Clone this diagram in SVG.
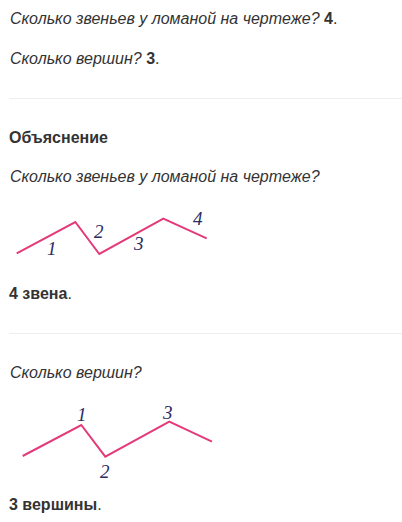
<svg xmlns="http://www.w3.org/2000/svg" width="402" height="522" viewBox="0 0 402 522">
<style>
.t{font-family:"Liberation Sans",Arial,sans-serif;font-size:16px;fill:#333}
.i{font-style:italic}
.b{font-weight:bold}
.sep{stroke:#eee;stroke-width:1}
.pl{fill:none;stroke:#e33a7a;stroke-width:2;stroke-linejoin:miter}
.n{font-family:"Liberation Serif","DejaVu Serif",serif;font-style:italic;font-size:19px;fill:#2b2b66}
</style>
<rect width="402" height="522" fill="#fff"/>
<g id="q1"><text class="t" x="10" y="24"><tspan class="i">Сколько звеньев у ломаной на чертеже?</tspan> <tspan class="b">4</tspan>.</text></g>
<g id="q2"><text class="t" x="10" y="64"><tspan class="i">Сколько вершин?</tspan> <tspan class="b">3</tspan>.</text></g>
<line class="sep" x1="9" y1="98.5" x2="402" y2="98.5"/>
<g id="heading"><text class="t b" x="9" y="143">Объяснение</text></g>
<g id="q1e"><text class="t i" x="10" y="182">Сколько звеньев у ломаной на чертеже?</text></g>
<g id="fig1">
<polyline class="pl" points="16.7,253.3 75.3,222 99.3,254 163.3,218.7 206.7,238.3"/>
<text class="n" x="47" y="255">1</text>
<text class="n" x="94" y="238">2</text>
<text class="n" x="134" y="250">3</text>
<text class="n" x="193" y="225">4</text>
</g>
<g id="a1"><text class="t" x="9" y="299"><tspan class="b">4 звена</tspan>.</text></g>
<line class="sep" x1="9" y1="333.5" x2="402" y2="333.5"/>
<g id="q2e"><text class="t i" x="10" y="378">Сколько вершин?</text></g>
<g id="fig2">
<polyline class="pl" points="22.7,456 81.3,425 105.3,456.7 169.3,421.7 212,441.7"/>
<text class="n" x="77" y="421">1</text>
<text class="n" x="100" y="478">2</text>
<text class="n" x="163" y="419">3</text>
</g>
<g id="a2"><text class="t" x="9" y="510"><tspan class="b">3 вершины</tspan>.</text></g>
</svg>
